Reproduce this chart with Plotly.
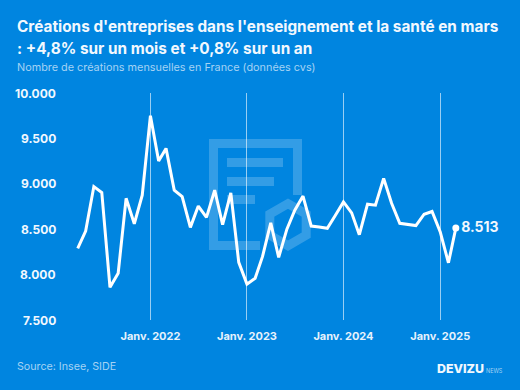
import math
import plotly.graph_objects as go
import pandas as pd

months = pd.date_range("2021-04-01", "2025-03-01", freq="MS").strftime("%Y-%m-%d").tolist()
values = [8290, 8480, 8970, 8905, 7860, 8015, 8840, 8560, 8875, 9750, 9250, 9390,
          8930, 8860, 8520, 8755, 8630, 8930, 8550, 8900, 8135, 7895, 7960, 8200,
          8570, 8190, 8500, 8710, 8865, 8535, 8525, 8510, 8650, 8800, 8680, 8440,
          8775, 8765, 9060, 8785, 8565, 8555, 8540, 8665, 8695, 8470, 8130, 8513]
y_ticks = [7500, 8000, 8500, 9000, 9500, 10000]
y_labels = ["7.500", "8.000", "8.500", "9.000", "9.500", "10.000"]
x_ticks = ["2022-01-01", "2023-01-01", "2024-01-01", "2025-01-01"]
x_labels = ["Janv. 2022", "Janv. 2023", "Janv. 2024", "Janv. 2025"]
last_label = "8.513"

W, H = 520, 390
L, R, T, B = 60, 20, 93, 70
FONT = "Inter, sans-serif"
BG = "#0085E0"
px = lambda x: (x - L) / (W - L - R)
py = lambda y: 1 - (y - T) / (H - T - B)

def path(points, close=False):
    s = "M " + " L ".join(f"{px(x):.5f},{py(y):.5f}" for x, y in points)
    return s + (" Z" if close else "")

WM = "rgba(255,255,255,0.2)"
shapes = [
    dict(type="path", xref="paper", yref="paper", layer="below", line=dict(color=WM, width=9),
         path=path([(297.5, 195), (297.5, 143.5), (213.5, 143.5), (213.5, 245.5), (260, 245.5)])),
    dict(type="path", xref="paper", yref="paper", layer="below",
         line=dict(color=WM, width=9),
         path=path([(227, 162.5), (283, 162.5)])),
    dict(type="path", xref="paper", yref="paper", layer="below",
         line=dict(color=WM, width=9),
         path=path([(227, 181.5), (274, 181.5)])),
    dict(type="path", xref="paper", yref="paper", layer="below",
         line=dict(color=WM, width=9),
         path=path([(227, 199.5), (255, 199.5)])),
    dict(type="path", xref="paper", yref="paper", layer="below", line=dict(color=WM, width=9),
         path=path([(288 + 21 * math.sin(i * math.pi / 3), 224.7 - 21 * math.cos(i * math.pi / 3))
                    for i in range(6)], close=True)),
]

fig = go.Figure()
fig.add_trace(go.Scatter(x=months, y=values, mode="lines", hoverinfo="skip",
                         line=dict(color="white", width=3, shape="linear")))
fig.add_trace(go.Scatter(x=months[-1:], y=values[-1:], mode="markers+text", text=[last_label],
                         textposition="middle right", hoverinfo="skip",
                         textfont=dict(family=FONT, size=14, color="#F2F8FE", weight=700),
                         marker=dict(color="white", size=7)))

def txt(x, y, s, size, color, weight=400, anchor="left"):
    return dict(x=px(x), y=py(y), xref="paper", yref="paper", text=s, showarrow=False,
                xanchor=anchor, yanchor="middle", align="left",
                font=dict(family=FONT, size=size, color=color, weight=weight))

annotations = [
    txt(14.5, 27, "Créations d'entreprises dans l'enseignement et la santé en mars", 15.35, "#F2F8FE", 700),
    txt(14.5, 48, ": +4,8% sur un mois et +0,8% sur un an", 15.35, "#F2F8FE", 700),
    txt(14.5, 67.5, "Nombre de créations mensuelles en France (données cvs)", 10.85, "#A5D3F4"),
    txt(14.5, 366, "Source: Insee, SIDE", 10.7, "#A5D3F4"),
    txt(435, 368, "DEVIZU", 12.4, "#F2F8FE", 800),
    txt(484, 370.5, "NEWS", 5.5, "#A5D3F4"),
]
for v, s in zip(y_ticks, y_labels):
    annotations.append(dict(x=0, y=v, xref="paper", yref="y", text=s, showarrow=False,
                            xanchor="right", yanchor="middle", xshift=-2, yshift=0,
                            font=dict(family=FONT, size=12, color="#F2F8FE", weight=700)))

fig.update_layout(
    width=W, height=H, margin=dict(l=L, r=R, t=T, b=B, pad=0),
    paper_bgcolor=BG, plot_bgcolor=BG, showlegend=False, shapes=shapes, annotations=annotations,
    xaxis=dict(type="date", range=["2021-01-24", "2025-08-15"], tickmode="array", tickvals=x_ticks,
               ticktext=x_labels, showgrid=True, gridcolor="rgba(255,255,255,0.6)", gridwidth=1,
               zeroline=False, showline=False, ticks="", ticklabelstandoff=8,
               tickfont=dict(family=FONT, size=11, color="#E6F2FC", weight=700)),
    yaxis=dict(range=[7500, 10000], showticklabels=False, showgrid=False, zeroline=False,
               showline=False, ticks=""),
)
fig.write_html("out.html", post_script="document.body.style.margin='0';document.body.style.background='%s';" % BG,
               config=dict(displayModeBar=False))
